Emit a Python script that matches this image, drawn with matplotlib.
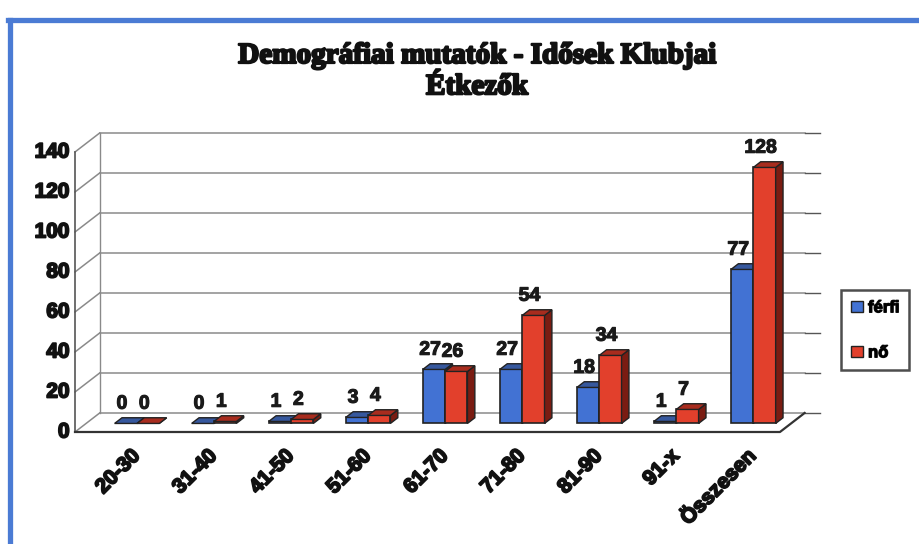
import numpy as np
import matplotlib
matplotlib.use("Agg")
import matplotlib.pyplot as plt
from matplotlib.patches import Polygon, Patch
from matplotlib.lines import Line2D
import matplotlib.patheffects as pe

plt.rcParams['font.family'] = ['Liberation Sans', 'DejaVu Sans']

# data
categories = ['20-30', '31-40', '41-50', '51-60', '61-70', '71-80', '81-90', '91-x', 'Összesen']
ferfi = [0, 0, 1, 3, 27, 27, 18, 1, 77]
no = [0, 1, 2, 4, 26, 54, 34, 7, 128]
series_names = ['férfi', 'nő']
yticks = [0, 20, 40, 60, 80, 100, 120, 140]

face_cols = ['#4272d3', '#e2402c']
side_cols = ['#1d3566', '#7a1c12']
top_cols = ['#36589e', '#a82c1e']
edge = '#222222'
heavy = [pe.withStroke(linewidth=1.3, foreground='#111111')]

# fake 3D projection: depth z in [0,1] shifts things right/up
kx, ky = 0.32, 9.5        # floor depth offset in data units
zb, dz = 0.45, 0.30       # bars front depth and bar depth
bw = 0.29                 # bar width
xL, xR = -0.66, 8.49      # front plane left/right

fig = plt.figure(figsize=(9.19, 5.44), dpi=100)
ax = fig.add_axes([75/919, (544-432)/544, 735/919, 304/544])
ax.set_xlim(xL, 8.88)
ax.set_ylim(0, 152)
ax.axis('off')

# walls / grid
grid_c = '#8a8a8a'
for v in yticks:
    ax.plot([xL + kx, xR + kx], [v + ky, v + ky], color=grid_c, lw=1.1, zorder=1, clip_on=False)
    ax.plot([xL, xL + kx], [v, v + ky], color=grid_c, lw=1.1, zorder=1, clip_on=False)
    ax.plot([xR + kx, xR + kx + 0.2], [v + ky, v + ky], color='#555555', lw=1.0, zorder=1, clip_on=False)
    ax.text(xL - 0.07, v, str(v), ha='right', va='center', fontsize=15,
            fontweight='bold', color='#111111', path_effects=heavy)
ax.plot([xL, xL], [0, yticks[-1]], color='#555555', lw=1.2, zorder=1, clip_on=False)
ax.plot([xL + kx, xL + kx], [ky, yticks[-1] + ky], color=grid_c, lw=1.0, zorder=1, clip_on=False)
ax.plot([xL, xR, xR + kx], [0, 0, ky], color='#333333', lw=1.6, zorder=2, clip_on=False)

# bars
z = 3
for i in range(len(categories)):
    for s, vals in enumerate([ferfi, no]):
        v = vals[i]
        x0 = i - bw + s * bw + zb * kx
        x1 = x0 + bw
        base = zb * ky
        top = base + v
        ox, oy = dz * kx, dz * ky
        ax.bar(x0, v, width=bw, bottom=base, align='edge', color=face_cols[s],
               edgecolor=edge, linewidth=1.2, zorder=z)
        ax.add_patch(Polygon([(x1, base), (x1, top), (x1 + ox, top + oy), (x1 + ox, base + oy)],
                             closed=True, facecolor=side_cols[s], edgecolor=edge, lw=1.0, zorder=z))
        ax.add_patch(Polygon([(x0, top), (x1, top), (x1 + ox, top + oy), (x0 + ox, top + oy)],
                             closed=True, facecolor=top_cols[s], edgecolor=edge, lw=1.0, zorder=z))
        ax.text(x0 + bw / 2 - 0.05, top + oy + 2.5, str(v), ha='center', va='bottom',
                fontsize=14, fontweight='bold', color='#1a1a1a', zorder=20,
                path_effects=[pe.withStroke(linewidth=0.8, foreground='#1a1a1a')])
        z += 1

# category labels
for i, c in enumerate(categories):
    ax.text(i + 0.06, -7, c, rotation=45, rotation_mode='anchor', ha='right', va='top',
            fontsize=15, fontweight='bold', color='#111111', path_effects=heavy)

# title
fig.text(477/919, 1 - 42/544, 'Demográfiai mutatók - Idősek Klubjai\nÉtkezők',
         ha='center', va='top', fontsize=21, fontweight='bold', family='Liberation Serif',
         linespacing=1.2, color='#111111',
         path_effects=[pe.withStroke(linewidth=1.6, foreground='#111111')])

# legend
handles = [Patch(facecolor=face_cols[k], edgecolor=edge, lw=1.0) for k in range(2)]
leg = fig.legend(handles, series_names, loc='upper left', bbox_to_anchor=(833/919, 1 - 282/544),
                 frameon=True, fancybox=False, handlelength=0.7, handleheight=0.7,
                 handletextpad=0.3, labelspacing=1.8, borderpad=0.6,
                 prop={'weight': 'bold', 'size': 12})
leg.get_frame().set_edgecolor('#222222')
leg.get_frame().set_linewidth(1.8)
for t in leg.get_texts():
    t.set_path_effects([pe.withStroke(linewidth=0.9, foreground='#111111')])

# blue outer frame (only top and left visible in the scan)
fig.add_artist(Line2D([8/919, 1], [1 - 20/544, 1 - 20/544], color='#4b7bd4', lw=3.8,
                      transform=fig.transFigure))
fig.add_artist(Line2D([10/919, 10/919], [0, 1 - 20/544], color='#4b7bd4', lw=3.8,
                      transform=fig.transFigure))

fig.savefig('out.png', dpi=100)
